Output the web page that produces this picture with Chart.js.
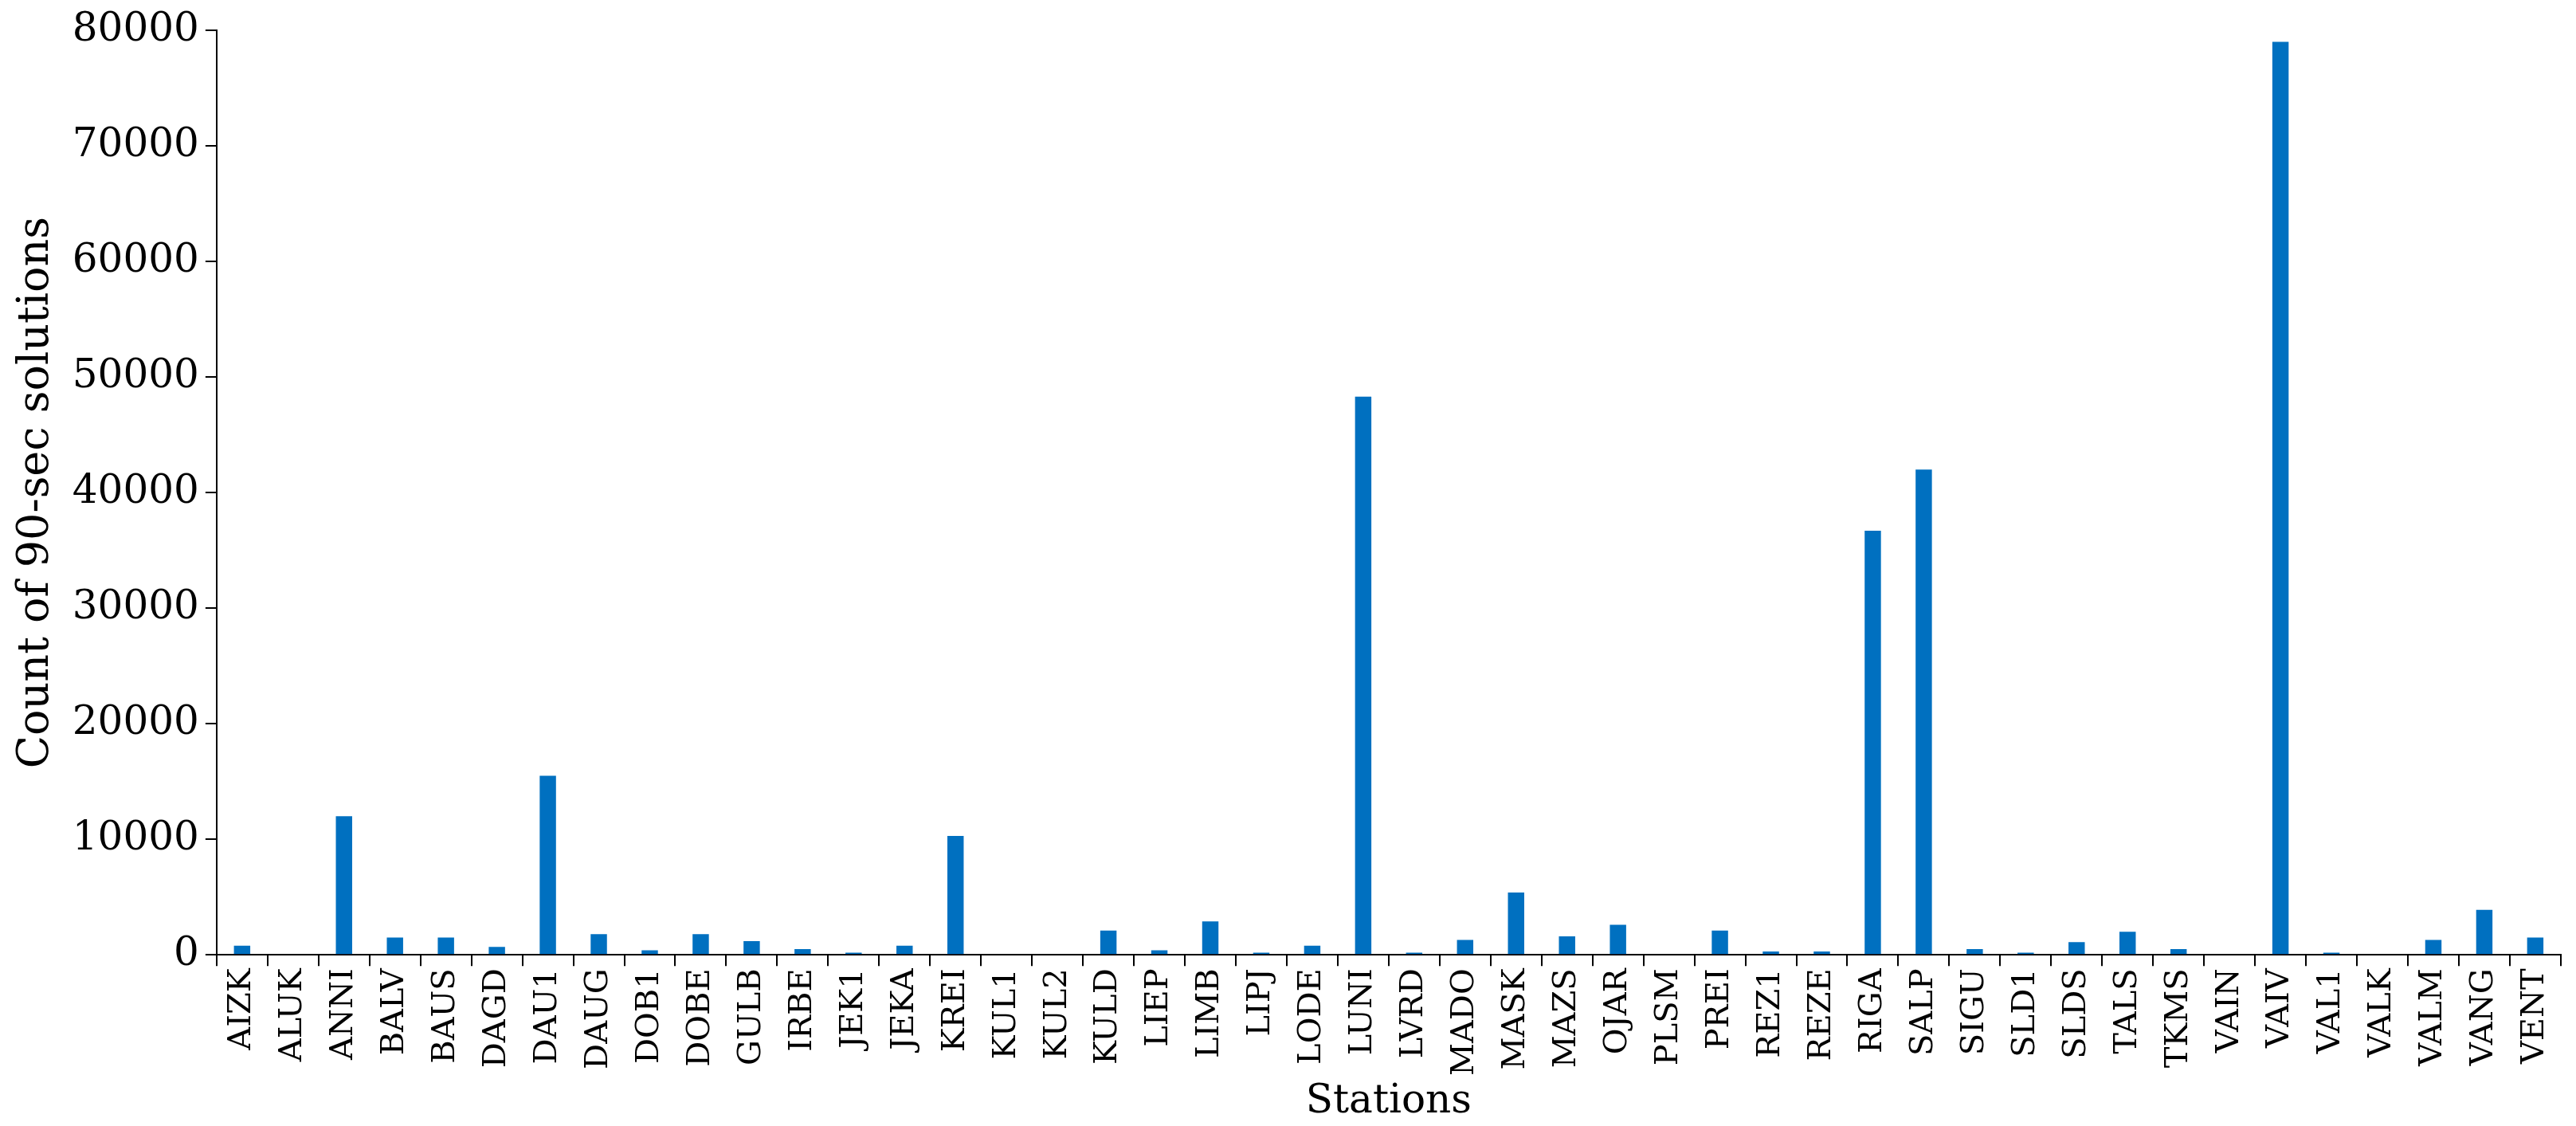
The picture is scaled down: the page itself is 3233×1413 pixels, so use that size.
<!DOCTYPE html>
<html><head><meta charset="utf-8">
<script src="https://cdn.jsdelivr.net/npm/chart.js@4"></script>
<style>html,body{margin:0;padding:0;background:#fff}#w{width:3233px;height:1413px}</style>
</head><body><div id="w"><canvas id="c"></canvas></div>
<script>
const stations=["AIZK","ALUK","ANNI","BALV","BAUS","DAGD","DAU1","DAUG","DOB1","DOBE","GULB","IRBE","JEK1","JEKA","KREI","KUL1","KUL2","KULD","LIEP","LIMB","LIPJ","LODE","LUNI","LVRD","MADO","MASK","MAZS","OJAR","PLSM","PREI","REZ1","REZE","RIGA","SALP","SIGU","SLD1","SLDS","TALS","TKMS","VAIN","VAIV","VAL1","VALK","VALM","VANG","VENT"];
const counts=[800,0,12000,1500,1500,700,15500,1800,400,1800,1200,500,200,800,10300,0,0,2100,400,2900,200,800,48300,200,1300,5400,1600,2600,0,2100,300,300,36700,42000,500,200,1100,2000,500,0,79000,200,0,1300,3900,1500];
const yTicks=[0,10000,20000,30000,40000,50000,60000,70000,80000];
const F="'DejaVu Serif','Liberation Serif',serif";
new Chart(document.getElementById('c'),{type:'bar',
data:{labels:stations,datasets:[{data:counts,backgroundColor:'#0070C0',barPercentage:0.32,categoryPercentage:1}]},
options:{responsive:true,maintainAspectRatio:false,animation:false,
layout:{padding:{top:30,right:10,left:10,bottom:0}},
plugins:{legend:{display:false},tooltip:{enabled:false}},
scales:{
x:{grid:{display:true,drawOnChartArea:false,offset:true,color:'#000',tickLength:14,lineWidth:2},border:{color:'#000',width:2},
ticks:{color:'#000',font:{family:F,size:40},maxRotation:90,minRotation:90,autoSkip:false},
title:{display:true,text:'Stations',color:'#000',font:{family:F,size:50},padding:{top:0,bottom:0}}},
y:{min:0,max:80000,afterBuildTicks:a=>{a.ticks=yTicks.map(v=>({value:v}));},
grid:{display:true,drawOnChartArea:false,color:'#000',tickLength:14,lineWidth:2},border:{color:'#000',width:2},
ticks:{color:'#000',font:{family:F,size:50},padding:8,callback:v=>String(v)},
title:{display:true,text:'Count of 90-sec solutions',color:'#000',font:{family:F,size:54}}}}}});
</script></body></html>
